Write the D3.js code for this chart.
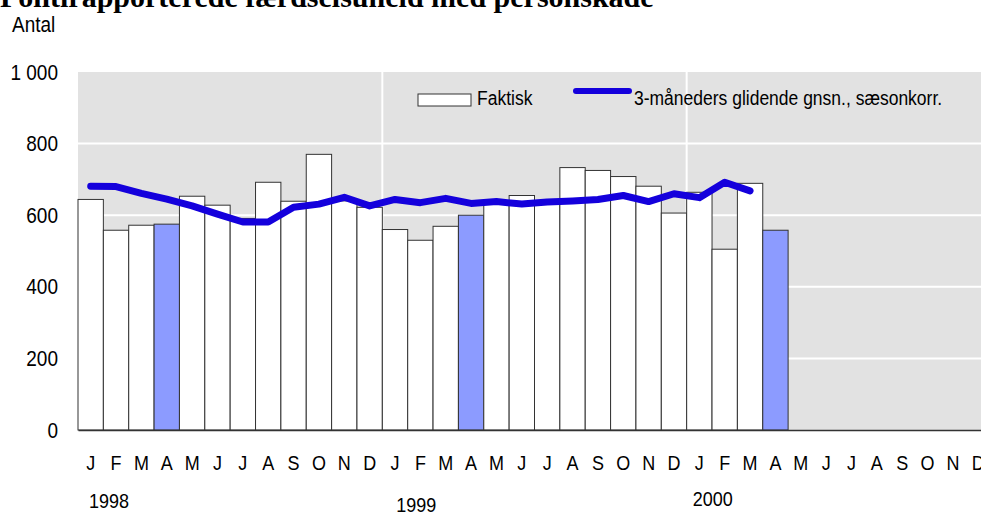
<!DOCTYPE html>
<html>
<head>
<meta charset="utf-8">
<script src="https://cdn.jsdelivr.net/npm/d3@7"></script>
<style>
  body { margin: 0; background: #fff; }
  svg { display: block; }
  text { font-family: "Liberation Sans", Arial, sans-serif; fill: #000; }
</style>
</head>
<body>
<svg id="chart" width="981" height="512"></svg>
<script>
// month labels for one year, repeated over 1998-2000
const monthLabels = ["J", "F", "M", "A", "M", "J", "J", "A", "S", "O", "N", "D"];
const years = ["1998", "1999", "2000"];

// Faktisk (monthly actual counts), Jan 1998 - Apr 2000
const actual = [644, 558, 572, 575, 653, 628, 591, 692, 639, 770, 640, 622,
                560, 530, 569, 600, 630, 655, 635, 733, 725, 708, 681, 606,
                664, 505, 689, 558];
// bars drawn in blue (April each year)
const highlighted = [3, 15, 27];

// 3-måneders glidende gnsn., sæsonkorr., Jan 1998 - Mar 2000
const smoothed = [681, 680, 661, 645, 626, 603, 581, 581, 622, 631, 650, 626,
                  644, 635, 647, 633, 638, 631, 637, 640, 644, 655, 638, 660,
                  649, 692, 668];

const yTicks = [0, 200, 400, 600, 800, 1000];

const svg = d3.select("#chart");
const margin = { top: 72, left: 78, bottom: 430, right: 991 };
const stretchY = 1.15; // text in the source is slightly taller than wide

const months = d3.range(years.length * 12);
const x = d3.scaleBand().domain(months).range([margin.left, margin.right]).padding(0);
const y = d3.scaleLinear().domain([0, 1000]).range([margin.bottom, margin.top]);

// stretch text vertically around its own baseline
function stretch(sel) {
  sel.attr("transform", function () {
    const ty = +this.getAttribute("y") || 0;
    return `translate(0,${ty}) scale(1,${stretchY}) translate(0,${-ty})`;
  });
}

// title (partly cut off at the top)
svg.append("text")
  .attr("x", 0).attr("y", 7)
  .style("font-family", "'Liberation Serif', 'Times New Roman', serif")
  .style("font-weight", "bold")
  .style("font-size", "30px")
  .text("Politirapporterede færdselsuheld med personskade");

svg.append("text")
  .attr("x", 12).attr("y", 32)
  .style("font-size", "19px")
  .text("Antal")
  .call(stretch);

// plot background
svg.append("rect")
  .attr("x", margin.left).attr("y", margin.top)
  .attr("width", margin.right - margin.left)
  .attr("height", margin.bottom - margin.top)
  .attr("fill", "#e2e2e2");

// white grid lines
svg.append("g")
  .selectAll("line")
  .data(yTicks.filter(d => d > 0 && d < 1000))
  .join("line")
  .attr("x1", margin.left).attr("x2", margin.right)
  .attr("y1", d => y(d)).attr("y2", d => y(d))
  .attr("stroke", "#fff").attr("stroke-width", 2);

svg.append("g")
  .selectAll("line")
  .data([12, 24])
  .join("line")
  .attr("x1", d => x(d)).attr("x2", d => x(d))
  .attr("y1", margin.top).attr("y2", margin.bottom)
  .attr("stroke", "#fff").attr("stroke-width", 2);

// bars
svg.append("g")
  .selectAll("rect")
  .data(actual)
  .join("rect")
  .attr("x", (d, i) => x(i))
  .attr("y", d => y(d))
  .attr("width", x.bandwidth())
  .attr("height", d => y(0) - y(d))
  .attr("fill", (d, i) => highlighted.includes(i) ? "#8c9bff" : "#fff")
  .attr("stroke", "#333")
  .attr("stroke-width", 1);

// moving average line
const line = d3.line()
  .x((d, i) => x(i) + x.bandwidth() / 2)
  .y(d => y(d));

svg.append("path")
  .datum(smoothed)
  .attr("d", line)
  .attr("fill", "none")
  .attr("stroke", "#1400dc")
  .attr("stroke-width", 7)
  .attr("stroke-linejoin", "round")
  .attr("stroke-linecap", "round");

// y axis
const yAxis = svg.append("g")
  .attr("transform", `translate(${margin.left},0)`)
  .call(d3.axisLeft(y)
    .tickValues(yTicks)
    .tickSize(0)
    .tickPadding(20)
    .tickFormat(d => d3.format(",")(d).replace(",", " ")));
yAxis.select(".domain").remove();
yAxis.selectAll("text")
  .style("font-size", "19px").style("font-family", null)
  .call(stretch);

// x axis
const xAxis = svg.append("g")
  .attr("transform", `translate(0,${margin.bottom})`)
  .call(d3.axisBottom(x)
    .tickSize(0)
    .tickPadding(25)
    .tickFormat(i => monthLabels[i % 12]));
xAxis.select(".domain").attr("stroke", "#333").attr("stroke-width", 1.5);
xAxis.selectAll("text")
  .style("font-size", "18px").style("font-family", null)
  .call(stretch);

// year labels
const yearDx = [11, 14, 6];
const yearY = [508, 512, 506];
svg.append("g")
  .selectAll("text")
  .data(years)
  .join("text")
  .attr("x", (d, i) => x(i * 12) + yearDx[i])
  .attr("y", (d, i) => yearY[i])
  .style("font-size", "18px")
  .text(d => d)
  .call(stretch);

// legend
const legend = svg.append("g");
legend.append("rect")
  .attr("x", 418).attr("y", 94).attr("width", 53).attr("height", 12)
  .attr("fill", "#fff").attr("stroke", "#333").attr("stroke-width", 1);
legend.append("text")
  .attr("x", 477).attr("y", 105)
  .style("font-size", "17.5px")
  .text("Faktisk")
  .call(stretch);
legend.append("line")
  .attr("x1", 576).attr("x2", 629).attr("y1", 91).attr("y2", 91)
  .attr("stroke", "#1400dc").attr("stroke-width", 6)
  .attr("stroke-linecap", "round");
legend.append("text")
  .attr("x", 634).attr("y", 105)
  .style("font-size", "17.5px")
  .text("3-måneders glidende gnsn., sæsonkorr.")
  .call(stretch);
</script>
</body>
</html>
